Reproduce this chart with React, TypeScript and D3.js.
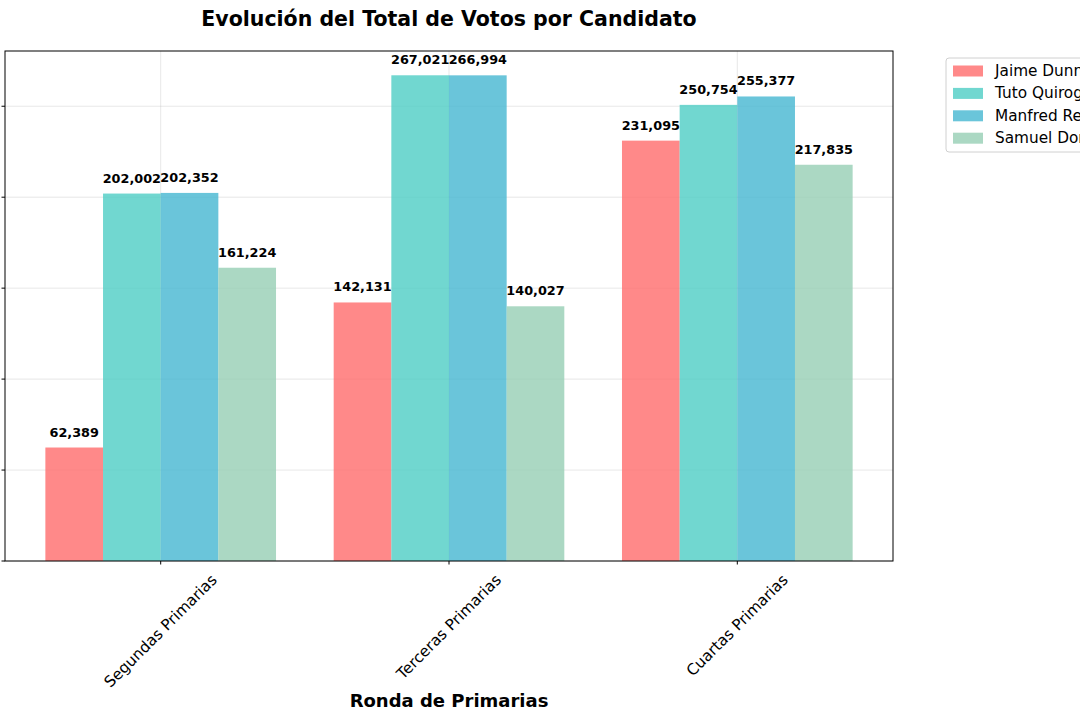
import * as d3 from "d3";
import { useEffect, useRef } from "react";

const rounds = ["Segundas Primarias", "Terceras Primarias", "Cuartas Primarias"];
const candidates = ["Jaime Dunn", "Tuto Quiroga", "Manfred Reyes Villa", "Samuel Doria Medina"];
const colors = ["#FF6B6B", "#4ECDC4", "#45B7D1", "#96CEB4"];

const jaimeDunn = [62389, 142131, 231095];
const tutoQuiroga = [202002, 267021, 250754];
const manfredReyesVilla = [202352, 266994, 255377];
const samuelDoriaMedina = [161224, 140027, 217835];

const series = [jaimeDunn, tutoQuiroga, manfredReyesVilla, samuelDoriaMedina];
const yTicks = [0, 50000, 100000, 150000, 200000, 250000];

const FONT = "DejaVu Sans, sans-serif";

export default function App() {
  const svgRef = useRef<SVGSVGElement | null>(null);

  useEffect(() => {
    if (!svgRef.current) return;
    const svg = d3.select(svgRef.current);
    svg.selectAll("*").remove();

    const width = 1080;
    const height = 720;
    const plot = { left: 5, right: 893, top: 51, bottom: 561 };
    const barW = 0.2;
    const maxVal = d3.max(series.flat()) ?? 1;

    // matplotlib-like x limits: bars span -0.4..2.4 plus 5% margins
    const xMin = -0.4;
    const xMax = rounds.length - 1 + 0.4;
    const pad = (xMax - xMin) * 0.05;
    const x = d3
      .scaleLinear()
      .domain([xMin - pad, xMax + pad])
      .range([plot.left, plot.right]);

    const y = d3
      .scaleLinear()
      .domain([0, maxVal * 1.05])
      .range([plot.bottom, plot.top]);

    svg.attr("viewBox", `0 0 ${width} ${height}`);

    // grid
    const grid = svg.append("g");
    grid
      .selectAll(".gy")
      .data(yTicks)
      .join("line")
      .attr("x1", plot.left)
      .attr("x2", plot.right)
      .attr("y1", (d) => y(d))
      .attr("y2", (d) => y(d))
      .attr("stroke", "#b0b0b0")
      .attr("stroke-opacity", 0.3)
      .attr("stroke-width", 1);
    grid
      .selectAll(".gx")
      .data(rounds)
      .join("line")
      .attr("x1", (_, i) => x(i))
      .attr("x2", (_, i) => x(i))
      .attr("y1", plot.top)
      .attr("y2", plot.bottom)
      .attr("stroke", "#b0b0b0")
      .attr("stroke-opacity", 0.3)
      .attr("stroke-width", 1);

    // bars
    series.forEach((values, s) => {
      const offset = (s - 1.5) * barW;
      const g = svg.append("g");
      g.selectAll("rect")
        .data(values)
        .join("rect")
        .attr("x", (_, i) => x(i + offset - barW / 2))
        .attr("y", (d) => y(d))
        .attr("width", x(barW) - x(0))
        .attr("height", (d) => y(0) - y(d))
        .attr("fill", colors[s])
        .attr("fill-opacity", 0.8);
      g.selectAll("text")
        .data(values)
        .join("text")
        .attr("x", (_, i) => x(i + offset))
        .attr("y", (d) => y(d) - 11)
        .attr("text-anchor", "middle")
        .attr("font-family", FONT)
        .attr("font-size", 12.8)
        .attr("font-weight", "bold")
        .attr("fill", "#000")
        .text((d) => d3.format(",")(d));
    });

    // spines
    svg
      .append("rect")
      .attr("x", plot.left)
      .attr("y", plot.top)
      .attr("width", plot.right - plot.left)
      .attr("height", plot.bottom - plot.top)
      .attr("fill", "none")
      .attr("stroke", "#000")
      .attr("stroke-width", 1);

    // y ticks (labels lie outside the visible area)
    svg
      .append("g")
      .selectAll("line")
      .data(yTicks)
      .join("line")
      .attr("x1", plot.left - 3.5)
      .attr("x2", plot.left)
      .attr("y1", (d) => y(d))
      .attr("y2", (d) => y(d))
      .attr("stroke", "#000");

    // x ticks + rotated labels
    const xt = svg.append("g");
    const tickSize = 15.3;
    rounds.forEach((r, i) => {
      const cx = x(i);
      xt.append("line")
        .attr("x1", cx)
        .attr("x2", cx)
        .attr("y1", plot.bottom)
        .attr("y2", plot.bottom + 3.5)
        .attr("stroke", "#000");
      const t = xt
        .append("text")
        .attr("font-family", FONT)
        .attr("font-size", tickSize)
        .attr("fill", "#000")
        .attr("text-anchor", "middle")
        .attr("dominant-baseline", "central")
        .text(r);
      const len = (t.node() as SVGTextElement).getComputedTextLength();
      const half = ((len + tickSize) * Math.SQRT1_2) / 2;
      const cy = plot.bottom + 11 + half;
      t.attr("x", cx).attr("y", cy).attr("transform", `rotate(-45, ${cx}, ${cy})`);
    });

    // title + axis label
    svg
      .append("text")
      .attr("x", (plot.left + plot.right) / 2)
      .attr("y", 26)
      .attr("text-anchor", "middle")
      .attr("font-family", FONT)
      .attr("font-size", 20.5)
      .attr("font-weight", "bold")
      .text("Evolución del Total de Votos por Candidato");

    svg
      .append("text")
      .attr("x", (plot.left + plot.right) / 2)
      .attr("y", 707)
      .attr("text-anchor", "middle")
      .attr("font-family", FONT)
      .attr("font-size", 18)
      .attr("font-weight", "bold")
      .text("Ronda de Primarias");

    // legend
    const legend = svg.append("g");
    legend
      .append("rect")
      .attr("x", 946)
      .attr("y", 58)
      .attr("width", 200)
      .attr("height", 94)
      .attr("rx", 3)
      .attr("fill", "#fff")
      .attr("fill-opacity", 0.8)
      .attr("stroke", "#d0d0d0");
    candidates.forEach((c, i) => {
      const rowY = 71 + i * 22.4;
      legend
        .append("rect")
        .attr("x", 953)
        .attr("y", rowY - 5.5)
        .attr("width", 30)
        .attr("height", 11)
        .attr("fill", colors[i])
        .attr("fill-opacity", 0.8);
      legend
        .append("text")
        .attr("x", 995)
        .attr("y", rowY)
        .attr("dominant-baseline", "central")
        .attr("font-family", FONT)
        .attr("font-size", 15.3)
        .attr("fill", "#000")
        .text(c);
    });
  }, []);

  return (
    <svg
      ref={svgRef}
      width={1080}
      height={720}
      style={{ position: "absolute", left: 0, top: 0, background: "#fff" }}
    />
  );
}
